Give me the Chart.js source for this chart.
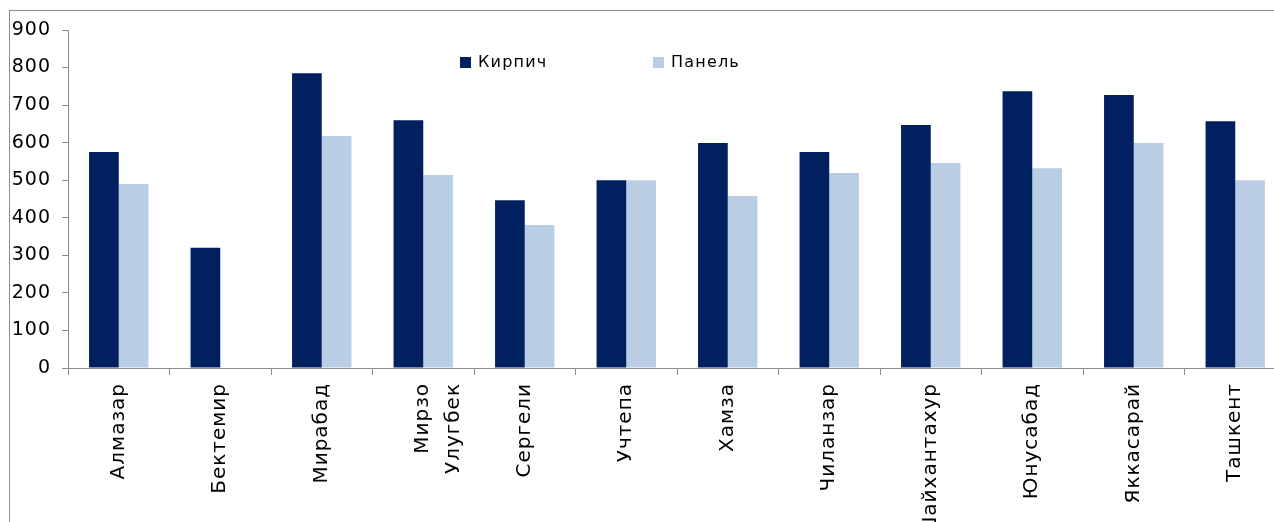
<!DOCTYPE html>
<html>
<head>
<meta charset="utf-8">
<script src="https://cdn.jsdelivr.net/npm/chart.js@4"></script>
<style>
  html, body { margin: 0; padding: 0; background: #fff; overflow: hidden; }
  #wrap { position: absolute; left: 0; top: 0; width: 1300px; height: 522px; }
  #frame { position: absolute; left: 9px; top: 10px; width: 1300px; height: 520px;
           border-left: 1px solid #8c8c8c; border-top: 1px solid #8c8c8c; pointer-events: none; }
</style>
</head>
<body>
<div id="wrap"><canvas id="grafica" width="1300" height="522"></canvas></div>
<div id="frame"></div>
<script>
/********** Datos *******************/
const rayones = ['Алмазар', 'Бектемир', 'Мирабад', ['Мирзо', 'Улугбек'], 'Сергели', 'Учтепа',
  'Хамза', 'Чиланзар', 'Шайхантахур', 'Юнусабад', 'Яккасарай', 'Ташкент'];
const kirpich = [575, 320, 785, 660, 447, 500, 599, 575, 647, 737, 727, 657];
const panel = [490, 0, 618, 514, 381, 500, 458, 519, 546, 532, 599, 500];
const ticksY = [0, 100, 200, 300, 400, 500, 600, 700, 800, 900];

const fuente = 'DejaVu Sans, Liberation Sans, sans-serif';

/********* leyenda dentro del grafico ********************/
const leyenda = {
  id: 'leyenda',
  beforeDraw(chart) {
    chart.ctx.letterSpacing = '1px';
  },
  afterDraw(chart) {
    const ctx = chart.ctx;
    const area = chart.chartArea;
    const pos = [392, 585];
    ctx.save();
    ctx.letterSpacing = '1.2px';
    ctx.font = '16px ' + fuente;
    ctx.textBaseline = 'middle';
    chart.data.datasets.forEach((ds, i) => {
      const x = area.left + pos[i];
      ctx.fillStyle = ds.backgroundColor;
      ctx.fillRect(x, 57, 11, 11);
      ctx.fillStyle = '#000';
      ctx.fillText(ds.label, x + 18, 63);
    });
    ctx.restore();
  }
};

new Chart(document.getElementById('grafica'), {
  type: 'bar',
  data: {
    labels: rayones,
    datasets: [
      { label: 'Кирпич', data: kirpich, backgroundColor: '#002060' },
      { label: 'Панель', data: panel, backgroundColor: '#B9CDE5' }
    ]
  },
  options: {
    responsive: false,
    animation: false,
    datasets: { bar: { categoryPercentage: 0.585, barPercentage: 1 } },
    layout: { padding: { top: 30, right: 14, left: 0, bottom: 0 } },
    plugins: { legend: { display: false }, tooltip: { enabled: false } },
    scales: {
      x: {
        grid: { drawOnChartArea: false, tickLength: 7, color: '#8c8c8c', offset: true },
        border: { color: '#8c8c8c' },
        ticks: {
          minRotation: 90, maxRotation: 90, autoSkip: false, padding: 8,
          color: '#000', font: { size: 20, family: fuente, lineHeight: 1.55 }
        },
        afterFit(scale) { scale.height = 154; }
      },
      y: {
        min: 0, max: 900,
        afterBuildTicks(scale) { scale.ticks = ticksY.map(v => ({ value: v })); },
        grid: { drawOnChartArea: false, tickLength: 6, color: '#8c8c8c' },
        border: { color: '#8c8c8c' },
        ticks: { padding: 11, color: '#000', font: { size: 19, family: fuente } },
        afterFit(scale) { scale.width = 68; }
      }
    }
  },
  plugins: [leyenda]
});
</script>
</body>
</html>
